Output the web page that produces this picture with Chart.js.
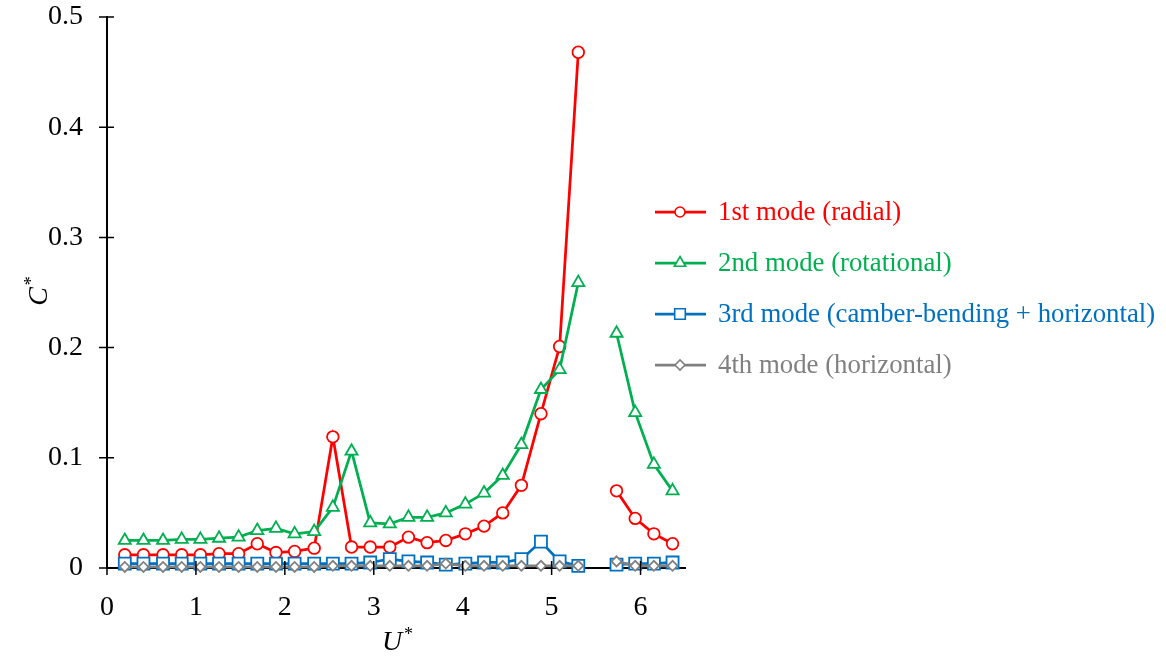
<!DOCTYPE html>
<html>
<head>
<meta charset="utf-8">
<script src="https://cdn.jsdelivr.net/npm/chart.js@4"></script>
<style>
  body { margin: 0; background: #fff; }
  #wrap { position: relative; width: 1166px; height: 659px; }
</style>
</head>
<body>
<div id="wrap"><canvas id="myChart"></canvas></div>
<script>
// U* values (x axis)
const u_values = [0.20, 0.41, 0.63, 0.84, 1.05, 1.26, 1.48, 1.69, 1.90, 2.11, 2.33, 2.54, 2.75, 2.96, 3.18,
                  3.39, 3.60, 3.81, 4.03, 4.24, 4.45, 4.66, 4.88, 5.09, 5.30, 5.51, 5.73, 5.94, 6.15, 6.36];

// C* per mode (null = no data)
const mode1 = [0.012, 0.012, 0.012, 0.012, 0.012, 0.013, 0.013, 0.022, 0.014, 0.015, 0.018, 0.119, 0.019, 0.019, 0.019,
               0.028, 0.023, 0.025, 0.031, 0.038, 0.050, 0.075, 0.140, 0.201, 0.468, null, 0.070, 0.045, 0.031, 0.022];
const mode2 = [0.025, 0.025, 0.025, 0.026, 0.026, 0.027, 0.028, 0.034, 0.036, 0.031, 0.033, 0.055, 0.106, 0.041, 0.040,
               0.046, 0.046, 0.050, 0.058, 0.068, 0.084, 0.112, 0.162, 0.180, 0.259, null, 0.213, 0.141, 0.094, 0.070];
const mode3 = [0.004, 0.004, 0.004, 0.004, 0.004, 0.004, 0.004, 0.004, 0.004, 0.004, 0.004, 0.004, 0.004, 0.005, 0.008,
               0.006, 0.005, 0.003, 0.004, 0.005, 0.005, 0.008, 0.024, 0.006, 0.002, null, 0.003, 0.004, 0.004, 0.005];
const mode4 = [0.001, 0.001, 0.001, 0.001, 0.001, 0.001, 0.001, 0.001, 0.001, 0.001, 0.001, 0.002, 0.002, 0.002, 0.002,
               0.002, 0.002, 0.004, 0.002, 0.002, 0.002, 0.002, 0.002, 0.002, 0.002, null, 0.006, 0.002, 0.002, 0.002];

const series_labels = ['1st mode (radial)', '2nd mode (rotational)', '3rd mode (camber-bending + horizontal)', '4th mode (horizontal)'];
const x_ticks = [0, 1, 2, 3, 4, 5, 6];
const y_ticks = [0, 0.1, 0.2, 0.3, 0.4, 0.5];

const FONT = "'Liberation Serif', 'Times New Roman', serif";

function toPoints(arr) {
  return u_values.map(function (u, i) { return { x: u, y: arr[i] }; });
}

function makeSet(label, arr, color, style, radius, order) {
  return {
    label: label,
    data: toPoints(arr),
    borderColor: color,
    backgroundColor: color,
    borderWidth: 2.75,
    pointStyle: style,
    pointRadius: radius,
    pointBorderWidth: 1.8,
    pointBorderColor: color,
    pointBackgroundColor: '#ffffff',
    tension: 0,
    spanGaps: false,
    clip: false,
    order: order
  };
}

// legend drawn on top of the plot, at the right
const legend_plugin = {
  id: 'sideLegend',
  afterDraw: function (chart) {
    const ctx = chart.ctx;
    const sizes = [5, 6.5, 7.5, 5];
    chart.data.datasets.forEach(function (ds, i) {
      const y = 212 + i * 51;
      ctx.save();
      ctx.strokeStyle = ds.borderColor;
      ctx.lineWidth = 2.75;
      ctx.beginPath();
      ctx.moveTo(655, y);
      ctx.lineTo(706, y);
      ctx.stroke();
      ctx.fillStyle = '#ffffff';
      ctx.lineWidth = 1.6;
      Chart.helpers.drawPoint(ctx, { pointStyle: ds.pointStyle, radius: sizes[i], rotation: 0, borderWidth: 1.6 }, 680, y);
      ctx.fillStyle = ds.borderColor;
      ctx.font = '26.8px ' + FONT;
      ctx.textBaseline = 'middle';
      ctx.textAlign = 'left';
      ctx.fillText(ds.label, 718, y + 1);
      ctx.restore();
    });
  }
};

// crossing tick marks on both axes + axis titles with superscript star
const axis_plugin = {
  id: 'axisDeco',
  afterDraw: function (chart) {
    const ctx = chart.ctx;
    const xs = chart.scales.x, ys = chart.scales.y;
    const x0 = xs.getPixelForValue(0), y0 = ys.getPixelForValue(0);
    ctx.save();
    ctx.strokeStyle = '#000';
    ctx.lineWidth = 1.5;
    ctx.beginPath();
    xs.ticks.forEach(function (t) {
      const px = xs.getPixelForValue(t.value);
      ctx.moveTo(px, y0 - 7);
      ctx.lineTo(px, y0 + 7);
    });
    ys.ticks.forEach(function (t) {
      const py = ys.getPixelForValue(t.value);
      ctx.moveTo(x0 - 8, py);
      ctx.lineTo(x0 + 7, py);
    });
    ctx.stroke();

    // x title
    ctx.fillStyle = '#000';
    ctx.textBaseline = 'alphabetic';
    ctx.textAlign = 'left';
    ctx.font = 'italic 28px ' + FONT;
    const cx = (xs.left + xs.right) / 2;
    const uw = ctx.measureText('U').width;
    ctx.fillText('U', cx - uw / 2 - 4, 650);
    ctx.font = '18px ' + FONT;
    ctx.fillText('*', cx + uw / 2 - 2, 640);

    // y title (rotated)
    const cy = (ys.top + ys.bottom) / 2;
    ctx.translate(47, cy);
    ctx.rotate(-Math.PI / 2);
    ctx.font = 'italic 28px ' + FONT;
    const cw = ctx.measureText('C').width;
    ctx.fillText('C', -cw / 2 - 4, 0);
    ctx.font = '18px ' + FONT;
    ctx.fillText('*', cw / 2 - 2, -10);
    ctx.restore();
  }
};

const config = {
  type: 'line',
  data: {
    datasets: [
      makeSet(series_labels[0], mode1, '#ff0000', 'circle', 5.8, 4),
      makeSet(series_labels[1], mode2, '#00b050', 'triangle', 7, 3),
      makeSet(series_labels[2], mode3, '#0070c0', 'rect', 8.5, 2),
      makeSet(series_labels[3], mode4, '#808080', 'rectRot', 5, 1)
    ]
  },
  options: {
    responsive: true,
    maintainAspectRatio: false,
    animation: false,
    layout: { padding: { top: 17, right: 481, left: 0, bottom: 0 } },
    plugins: {
      legend: { display: false },
      tooltip: { enabled: false }
    },
    scales: {
      x: {
        type: 'linear',
        min: 0,
        max: 6.5,
        afterBuildTicks: function (scale) {
          scale.ticks = x_ticks.map(function (v) { return { value: v }; });
        },
        afterFit: function (scale) { scale.height = 91; },
        grid: { display: false },
        border: { display: true, color: '#000', width: 2 },
        ticks: { color: '#000', padding: 15, maxRotation: 0, font: { family: FONT, size: 28 } }
      },
      y: {
        min: 0,
        max: 0.5,
        afterBuildTicks: function (scale) {
          scale.ticks = y_ticks.map(function (v) { return { value: v }; });
        },
        afterFit: function (scale) {
          scale.width = 107;
          scale.paddingTop = 0;
          scale.paddingBottom = 0;
        },
        grid: { display: false },
        border: { display: true, color: '#000', width: 2 },
        ticks: { color: '#000', padding: 16, font: { family: FONT, size: 28 } }
      }
    }
  },
  plugins: [axis_plugin, legend_plugin]
};

const ctx = document.getElementById('myChart').getContext('2d');
const chart = new Chart(ctx, config);
</script>
</body>
</html>
